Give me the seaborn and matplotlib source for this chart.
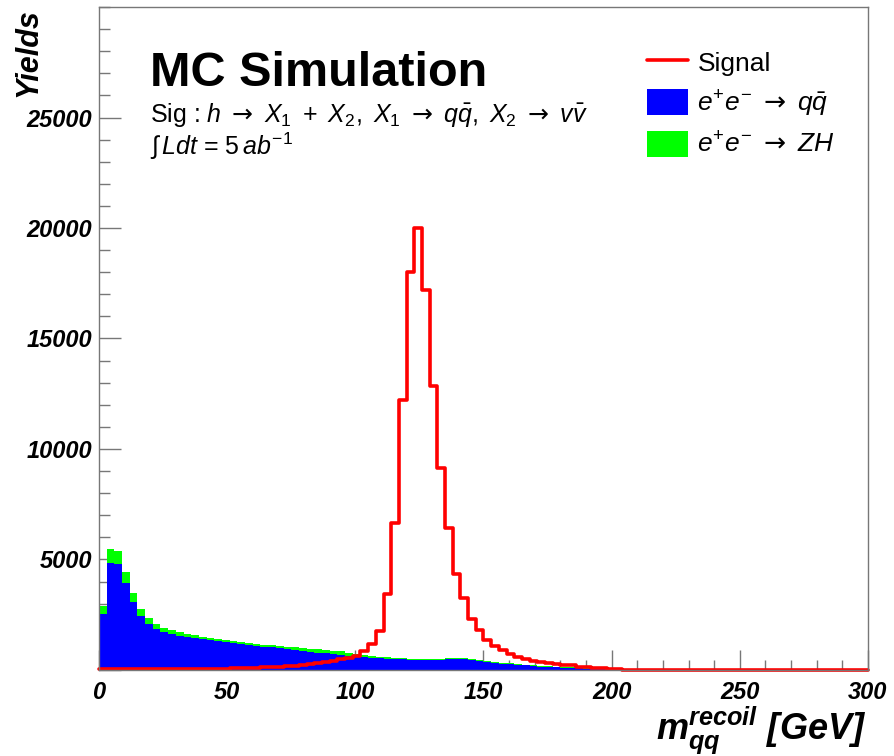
import numpy as np
import pandas as pd
import seaborn as sns
import matplotlib.pyplot as plt
from matplotlib.lines import Line2D
from matplotlib.patches import Patch
from matplotlib.ticker import MultipleLocator

# 100 bins of 3 GeV from 0 to 300
bin_edges = list(range(0, 301, 3))
bin_centers = [e + 1.5 for e in bin_edges[:-1]]

signal = [40, 40, 40, 40, 40, 40, 40, 40, 40, 40,
          50, 50, 50, 50, 50, 60, 65, 70, 80, 95,
          110, 120, 135, 150, 170, 195, 230, 260, 300, 350,
          420, 480, 540, 620, 840, 1170, 1780, 3420, 6670, 12200,
          18000, 20000, 17200, 12850, 9130, 6420, 4360, 3260, 2300, 1800,
          1360, 1090, 900, 720, 600, 480, 400, 350, 300, 270,
          240, 210, 150, 120, 90, 75, 45, 30, 15, 5,
          0, 0, 0, 0, 0, 0, 0, 0, 0, 0,
          0, 0, 0, 0, 0, 0, 0, 0, 0, 0,
          0, 0, 0, 0, 0, 0, 0, 0, 0, 0]

bkg_qq = [2530, 4830, 4780, 3920, 3090, 2440, 2070, 1860, 1700, 1610,
          1540, 1480, 1430, 1390, 1340, 1290, 1250, 1210, 1180, 1140,
          1100, 1060, 1020, 985, 950, 910, 870, 830, 790, 750,
          715, 680, 640, 600, 570, 540, 520, 505, 490, 480,
          470, 460, 455, 455, 465, 480, 500, 510, 470, 410,
          360, 320, 290, 265, 240, 210, 180, 155, 135, 115,
          100, 85, 70, 60, 45, 35, 25, 15, 8, 3,
          0, 0, 0, 0, 0, 0, 0, 0, 0, 0,
          0, 0, 0, 0, 0, 0, 0, 0, 0, 0,
          0, 0, 0, 0, 0, 0, 0, 0, 0, 0]

bkg_zh = [370, 630, 620, 530, 410, 320, 270, 210, 190, 180,
          160, 140, 130, 120, 120, 110, 100, 100, 90, 90,
          85, 85, 90, 95, 100, 110, 120, 130, 140, 150,
          160, 160, 150, 130, 110, 90, 80, 70, 60, 50,
          45, 40, 40, 40, 40, 40, 40, 40, 35, 35,
          35, 35, 35, 35, 35, 35, 30, 30, 30, 30,
          30, 30, 30, 20, 20, 20, 20, 10, 10, 10,
          0, 0, 0, 0, 0, 0, 0, 0, 0, 0,
          0, 0, 0, 0, 0, 0, 0, 0, 0, 0,
          0, 0, 0, 0, 0, 0, 0, 0, 0, 0]

x_ticks = [0, 50, 100, 150, 200, 250, 300]
y_ticks = [5000, 10000, 15000, 20000, 25000]

arrow = r'\ \mathsf{\rightarrow}\ '
lab_qq = r'$e^{+}e^{-}' + arrow + r'q\bar{q}$'
lab_zh = r'$e^{+}e^{-}' + arrow + r'ZH$'
sig_text = (r'Sig : $h' + arrow + r'X_{1}\ +\ X_{2},\ X_{1}' + arrow
            + r'q\bar{q},\ X_{2}' + arrow + r'v\bar{v}$')
lumi_text = r'$\int\,Ldt$ = 5$\,ab^{-1}$'

sns.set_theme(style='white')
plt.rcParams['font.family'] = ['Liberation Sans', 'DejaVu Sans']
plt.rcParams['text.color'] = 'black'
plt.rcParams['xtick.color'] = 'black'
plt.rcParams['ytick.color'] = 'black'
plt.rcParams['axes.labelcolor'] = 'black'
plt.rcParams['mathtext.fontset'] = 'custom'
plt.rcParams['mathtext.rm'] = 'Liberation Sans'
plt.rcParams['mathtext.it'] = 'Liberation Sans:italic'
plt.rcParams['mathtext.bf'] = 'Liberation Sans:bold'
plt.rcParams['mathtext.bfit'] = 'Liberation Sans:bold:italic'
plt.rcParams['mathtext.sf'] = 'DejaVu Sans'

bkg = pd.DataFrame({
    'mass': bin_centers + bin_centers,
    'yields': bkg_zh + bkg_qq,
    'process': ['ZH'] * len(bin_centers) + ['qq'] * len(bin_centers),
})
sig = pd.DataFrame({'mass': bin_centers, 'yields': signal})

fig = plt.figure(figsize=(8.94, 7.56), dpi=100)
ax = fig.add_axes([0.1107, 0.1138, 0.8602, 0.8769])

sns.histplot(data=bkg, x='mass', weights='yields', hue='process',
             hue_order=['ZH', 'qq'], multiple='stack', bins=bin_edges,
             element='step', palette={'qq': '#0000ff', 'ZH': '#00ff00'},
             alpha=1, linewidth=0, legend=False, ax=ax)
sns.histplot(data=sig, x='mass', weights='yields', bins=bin_edges,
             element='step', fill=False, color='#ff0000', linewidth=2.6, ax=ax)
ax.lines[-1].set_clip_on(False)

ax.set_xlim(0, 300)
ax.set_ylim(0, 30000)
ax.set_xticks(x_ticks)
ax.set_xticklabels(x_ticks, fontsize=17, fontweight='bold', fontstyle='italic')
ax.set_yticks([0] + y_ticks)
ax.set_yticklabels([''] + y_ticks, fontsize=17, fontweight='bold', fontstyle='italic')
ax.xaxis.set_minor_locator(MultipleLocator(10))
ax.yaxis.set_minor_locator(MultipleLocator(1000))
ax.tick_params(bottom=True, left=True, top=False, right=False, which='both')
ax.tick_params(axis='x', which='major', direction='in', length=14.4, width=1, color='#777777', pad=8)
ax.tick_params(axis='x', which='minor', direction='in', length=7.2, width=1, color='#777777')
ax.tick_params(axis='y', which='major', direction='in', length=16, width=1, color='#777777', pad=5)
ax.tick_params(axis='y', which='minor', direction='in', length=8, width=1, color='#777777')
for side in ax.spines.values():
    side.set_color('#777777')
    side.set_linewidth(1)

ax.set_xlabel(r'$\mathbfit{m}_{\mathbfit{qq}}^{\mathbfit{recoil}}$ [GeV]', fontsize=26,
              fontweight='bold', fontstyle='italic', loc='right')
ax.xaxis.set_label_coords(0.998, -0.052)
ax.set_ylabel('Yields', fontsize=22, fontweight='bold', fontstyle='italic', loc='top')
ax.yaxis.set_label_coords(-0.072, 0.998)

ax.text(0.066, 0.881, 'MC Simulation', transform=ax.transAxes, fontsize=35,
        fontweight='bold', va='baseline')
ax.text(0.066, 0.826, sig_text, transform=ax.transAxes, fontsize=18, va='baseline')
ax.text(0.066, 0.777, lumi_text, transform=ax.transAxes, fontsize=18, va='baseline')

handles = [Line2D([], [], color='#ff0000', linewidth=2.6),
           Patch(facecolor='#0000ff', edgecolor='none'),
           Patch(facecolor='#00ff00', edgecolor='none')]
ax.legend(handles, ['Signal', lab_qq, lab_zh], loc='upper left',
          bbox_to_anchor=(0.713, 0.936), frameon=False, fontsize=19,
          handlelength=1.55, handleheight=1.15, handletextpad=0.35,
          labelspacing=0.45, borderpad=0, borderaxespad=0)

fig.savefig('out.png', dpi=100)
